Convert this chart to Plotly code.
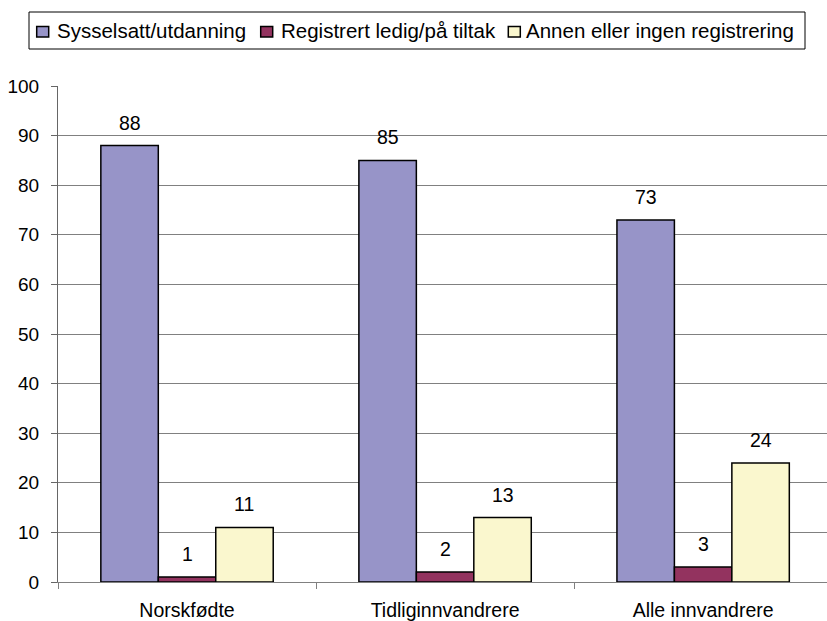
import plotly.graph_objects as go

categories = ["Norskfødte", "Tidliginnvandrere", "Alle innvandrere"]
series_names = ["Sysselsatt/utdanning", "Registrert ledig/på tiltak", "Annen eller ingen registrering"]
sysselsatt = [88, 85, 73]
ledig = [1, 2, 3]
annen = [11, 13, 24]
series_values = [sysselsatt, ledig, annen]
colors = ["#9794C8", "#93335F", "#FAF7CE"]
y_ticks = list(range(0, 101, 10))

FONT = "Liberation Sans, Arial, sans-serif"
BARGAP = 0.332
W, H = 827, 621
ML, MR, MT, MB = 58, 0, 86, 39
PW, PH = W - ML - MR, H - MT - MB


def px_x(px):
    return (px - ML) / PW


def px_y(py):
    return (H - MB - py) / PH


fig = go.Figure()
for name, vals, col in zip(series_names, series_values, colors):
    fig.add_trace(go.Bar(
        name=name, x=categories, y=vals, showlegend=False,
        marker=dict(color=col, line=dict(color="#000000", width=1.5)),
    ))

# value labels above bars
n = len(series_values)
bw = (1 - BARGAP) / n
for si, vals in enumerate(series_values):
    off = (si - (n - 1) / 2) * bw
    for ci, v in enumerate(vals):
        fig.add_annotation(
            x=ci + off, y=v, xref="x", yref="y", text=str(v),
            showarrow=False, yanchor="middle", yshift=23,
            font=dict(family=FONT, size=19.5, color="#000000"),
        )

# legend box (drawn in pixel layout positions)
legend_box = (29, 12, 805, 49)
legend_square_x = [36.7, 260.7, 508.3]
legend_text_x = [55, 279.3, 524]
sq_w, sq_top, sq_bot = 12, 26.5, 37
text_mid = 30

shapes = [dict(
    type="rect", xref="paper", yref="paper",
    x0=px_x(legend_box[0]), x1=px_x(legend_box[2]),
    y0=px_y(legend_box[3]), y1=px_y(legend_box[1]),
    line=dict(color="#000000", width=1), fillcolor="#FFFFFF", layer="above",
)]
for name, col, sx, tx in zip(series_names, colors, legend_square_x, legend_text_x):
    shapes.append(dict(
        type="rect", xref="paper", yref="paper",
        x0=px_x(sx), x1=px_x(sx + sq_w), y0=px_y(sq_bot), y1=px_y(sq_top),
        line=dict(color="#000000", width=1.5), fillcolor=col, layer="above",
    ))
    fig.add_annotation(
        x=px_x(tx), y=px_y(text_mid), xref="paper", yref="paper", text=name,
        showarrow=False, xanchor="left", yanchor="middle",
        font=dict(family=FONT, size=20.5, color="#000000"),
    )

fig.update_layout(
    width=W, height=H,
    margin=dict(l=ML, r=MR, t=MT, b=MB),
    paper_bgcolor="#FFFFFF", plot_bgcolor="#FFFFFF",
    barmode="group", bargap=BARGAP, bargroupgap=0,
    font=dict(family=FONT, size=19, color="#000000"),
    showlegend=False,
    shapes=shapes,
    xaxis=dict(
        range=[-0.5, 2.48], showline=True, linecolor="#808080", linewidth=1,
        ticks="outside", tickson="boundaries", ticklen=6, tickcolor="#808080",
        showgrid=False, tickfont=dict(family=FONT, size=19.5), ticklabelstandoff=11,
        automargin=False,
    ),
    yaxis=dict(
        range=[0, 100], tickvals=y_ticks, showline=True, linecolor="#666666", linewidth=1,
        ticks="outside", ticklen=6, tickcolor="#666666",
        showgrid=True, gridcolor="#808080", gridwidth=1, zeroline=False,
        tickfont=dict(family=FONT, size=19), ticklabelstandoff=8,
        automargin=False,
    ),
)

fig.write_html(
    "out.html",
    config={"displayModeBar": False},
    post_script="document.body.style.margin='0';document.body.style.overflow='hidden';",
)
